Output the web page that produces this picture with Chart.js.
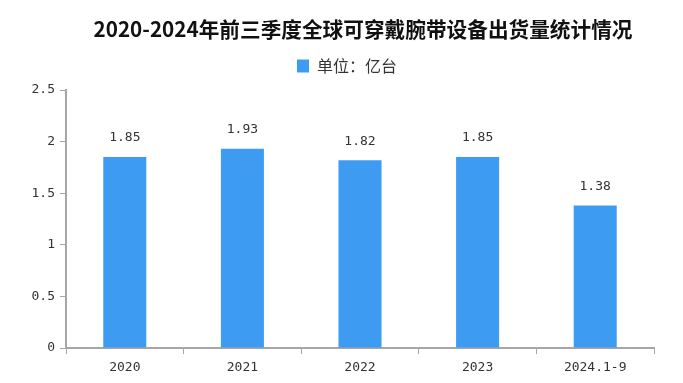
<!DOCTYPE html>
<html>
<head>
<meta charset="utf-8">
<script src="https://cdn.jsdelivr.net/npm/chart.js@4/dist/chart.umd.min.js"></script>
<style>
  html, body { margin: 0; padding: 0; background: #fff; }
  #wrap { width: 683px; height: 383px; }
</style>
</head>
<body>
<div id="wrap"><canvas id="chartCanvasId"></canvas></div>
<script>
"use strict";

// chart data
const categories = ["2020", "2021", "2022", "2023", "2024.1-9"]
const shipments  = [1.85, 1.93, 1.82, 1.85, 1.38]
const yTicks     = [0, 0.5, 1, 1.5, 2, 2.5]
const chartTitle = "2020-2024年前三季度全球可穿戴腕带设备出货量统计情况"
const seriesName = "单位：亿台"

const barColor  = "#3d9cf2"
const axisColor = "#a6a6a6"
const textColor = "#333333"
const monoFont  = "'DejaVu Sans Mono', monospace"

// title is drawn by hand so it can sit a little right of centre, like the original
const titleText = {
    id: "titleText",
    afterDraw(chart) {
        const ctx = chart.ctx
        ctx.save()
        ctx.font = "bold 21px 'Noto Sans CJK SC'"
        ctx.fillStyle = "#111"
        ctx.textAlign = "center"
        ctx.textBaseline = "middle"
        ctx.fillText(chartTitle, 363, 29, 539)
        ctx.restore()
    }
}

// push the plot down below the legend, and nudge the legend a bit right
const legendTweak = {
    id: "legendTweak",
    beforeInit(chart) {
        const origFit = chart.legend.fit
        chart.legend.fit = function () {
            origFit.bind(chart.legend)()
            this.height += 6
        }
    },
    afterLayout(chart) {
        chart.legend.left += 10
        chart.legend.right += 10
    }
}

// draws the value above each bar
const valueLabels = {
    id: "valueLabels",
    afterDatasetsDraw(chart) {
        const ctx = chart.ctx
        const meta = chart.getDatasetMeta(0)
        ctx.save()
        ctx.font = "13px " + monoFont
        ctx.fillStyle = textColor
        ctx.textAlign = "center"
        ctx.textBaseline = "middle"
        meta.data.forEach((bar, i) => {
            ctx.fillText(shipments[i].toFixed(2), bar.x, bar.y - 19)
        })
        ctx.restore()
    }
}

const chartContext = document.getElementById("chartCanvasId").getContext("2d")

const myChart = new Chart(chartContext, {
    type: "bar",
    data: {
        labels: categories,
        datasets: [{
            label: seriesName,
            data: shipments,
            backgroundColor: barColor,
            borderWidth: 0,
            barPercentage: 0.366,
            categoryPercentage: 1.0
        }]
    },
    options: {
        responsive: true,
        maintainAspectRatio: false,
        animation: false,
        layout: { padding: { left: 20, right: 29, top: 48, bottom: 0 } },
        plugins: {
            title: { display: false },
            legend: {
                display: true,
                labels: {
                    color: textColor,
                    font: { family: "'Noto Sans CJK SC'", size: 16 },
                    boxWidth: 12,
                    boxHeight: 13,
                    padding: 10
                }
            },
            tooltip: { enabled: false }
        },
        scales: {
            x: {
                grid: {
                    offset: true,
                    drawOnChartArea: false,
                    drawTicks: true,
                    tickLength: 6,
                    color: axisColor
                },
                border: { color: axisColor, width: 2 },
                ticks: {
                    color: textColor,
                    font: { family: monoFont, size: 13 },
                    padding: 6,
                    maxRotation: 0
                },
                afterFit(scale) { scale.height = 35 }
            },
            y: {
                min: 0,
                max: 2.5,
                afterBuildTicks(scale) {
                    scale.ticks = yTicks.map(v => ({ value: v }))
                },
                grid: {
                    drawOnChartArea: false,
                    drawTicks: true,
                    tickLength: 6,
                    color: axisColor
                },
                border: { color: axisColor, width: 2 },
                ticks: {
                    color: textColor,
                    font: { family: monoFont, size: 13 },
                    padding: 5,
                    callback: v => String(v)
                },
                afterFit(scale) { scale.width = 46 }
            }
        }
    },
    plugins: [legendTweak, valueLabels, titleText]
})
</script>
</body>
</html>
